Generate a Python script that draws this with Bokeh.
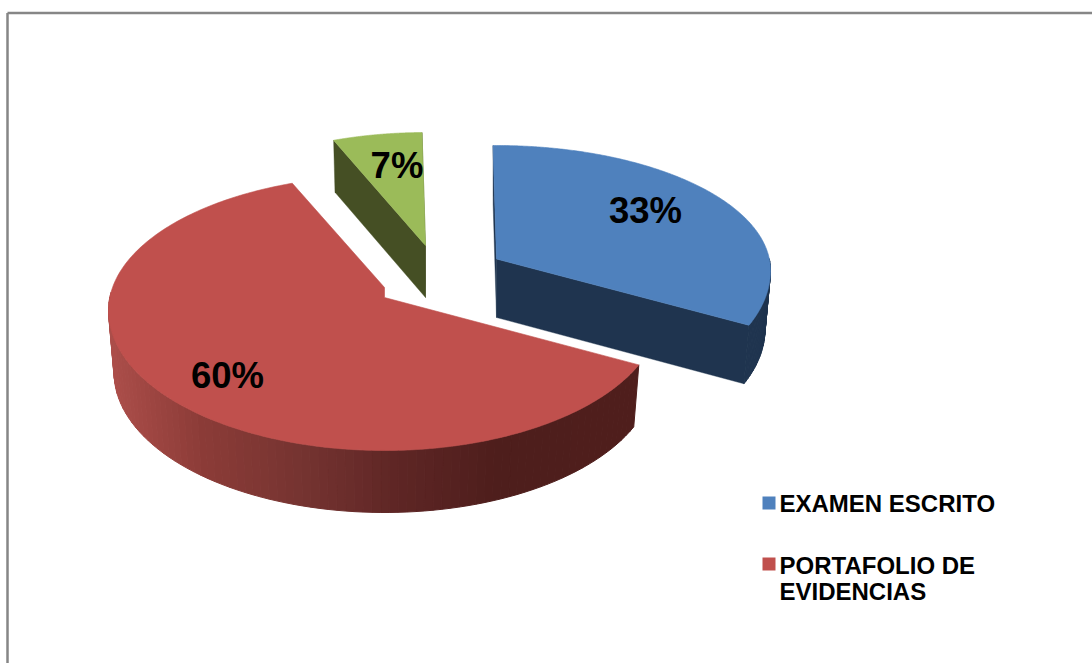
import numpy as np
from bokeh.plotting import figure
from bokeh.core.properties import value
from bokeh.embed import file_html
from bokeh.resources import INLINE

# Data
categories = ["EXAMEN ESCRITO", "PORTAFOLIO DE EVIDENCIAS", "OTROS"]
percentages = [33, 60, 7]
legend_lines = [["EXAMEN ESCRITO"], ["PORTAFOLIO DE", "EVIDENCIAS"]]

# Style and projection of each slice
top_colors = ["#4F81BD", "#C0504D", "#9BBB59"]
face_colors = ["#1F344F", "#4F1F1C", "#454F24"]
geom = [
    dict(cx=496, cy=270, rx=274, far=125, near=141, depth=58.5, shrink=0.98),
    dict(cx=384, cy=310, rx=276, far=135, near=140, depth=62, shrink=0.98, apex=(384, 297), notch=(384, 287)),
    dict(cx=425, cy=267, rx=275, far=135, near=140, depth=52, shrink=0.985, apex=(425, 245)),
]
geom[0]["apex"] = (496, 258.5)
wall_stops_x = [110, 200, 300, 400, 500, 640]
wall_stops_rgb = [(172, 78, 74), (140, 60, 56), (118, 52, 49), (94, 38, 37), (78, 30, 28), (80, 30, 28)]
START_DEG = -1.0


def warp(th):
    r = np.radians(th)
    return th - 8.85 * np.sin(r) - 3.5 * np.sin(2 * r)


def arc(g, a0, a1, n=120):
    th = np.radians(warp(np.linspace(a0, a1, n)))
    ry = np.where(np.cos(th) > 0, g["far"], g["near"])
    return g["cx"] + g["rx"] * np.sin(th), g["cy"] - ry * np.cos(th), np.cos(th)


def lower(g, x, y):
    return g["cx"] + (np.asarray(x) - g["cx"]) * g["shrink"], np.asarray(y) + g["depth"]


p = figure(width=1092, height=663, x_range=(0, 1092), y_range=(663, 0),
           output_backend="svg", toolbar_location=None, min_border=0,
           background_fill_color="white", border_fill_color="white")
p.axis.visible = False
p.grid.visible = False
p.outline_line_color = None

# frame
p.segment([7, 7], [12.5, 12.5], [1092, 7], [12.5, 663], line_color="#868686", line_width=2.5)

total = sum(percentages)
edges = np.cumsum([0] + percentages) / total * 360 + START_DEG
order = [2, 0, 1]
for i in order:
    g = geom[i]
    ax, ay = g["apex"]
    x, y, ct = arc(g, edges[i], edges[i + 1], 241)
    lx, ly = lower(g, x, y)
    # outer wall, made of strips; only the near part of the rim can be seen
    step = 2
    keep = [k for k in range(0, len(x) - 1, step) if ct[k] < 0.1]
    if keep and i != 2:
        last = len(x) - 1
        xs, ys, mids = [], [], []
        for k in keep:
            j = min(k + step, last)
            xs.append([x[k], x[j], lx[j], lx[k]])
            ys.append([y[k], y[j], ly[j], ly[k]])
            mids.append((x[k] + x[j]) / 2)
        if i == 1:
            rgb = [np.interp(mids, wall_stops_x, [s[c] for s in wall_stops_rgb]) for c in range(3)]
            cols = ["#%02x%02x%02x" % (int(a), int(b), int(c)) for a, b, c in zip(*rgb)]
        else:
            cols = [face_colors[i]] * len(xs)
        p.patches(xs, ys, fill_color=cols, line_color=cols, line_width=1.0)
    # the two inner faces
    lax, lay = lower(g, ax, ay)
    faces = (0, -1) if i != 1 else ()
    for e in faces:
        p.patch([x[e], ax, float(lax), float(lx[e])], [y[e], ay, float(lay), float(ly[e])],
                fill_color=face_colors[i], line_color=face_colors[i], line_width=0.4)
    # top face
    tx = [ax] + list(x)
    ty = [ay] + list(y)
    if "notch" in g:
        tx.append(g["notch"][0])
        ty.append(g["notch"][1])
    p.patch(tx, ty, fill_color=top_colors[i], line_color=top_colors[i], line_width=0.6)

# value labels
label_x = [645, 227, 396.5]
label_y = [210, 375, 165]
p.text(label_x, label_y, text=[f"{v}%" for v in percentages],
       text_font=value("Liberation Sans"), text_font_style="bold", text_font_size="36.5px",
       text_color="black", text_align="center", text_baseline="middle")

# legend
sw_x = [762, 762]
sw_y = [496, 557]
p.quad(left=sw_x, right=[s + 13 for s in sw_x], top=sw_y, bottom=[s + 13 for s in sw_y],
       fill_color=top_colors[:2], line_color=None)
lx_ = [779, 779, 779]
ly_ = [502.5, 564.5, 591]
p.text(lx_, ly_, text=[t for lines in legend_lines for t in lines],
       text_font=value("Liberation Sans"), text_font_style="bold", text_font_size="24px",
       text_color="black", text_align="left", text_baseline="middle")

html = file_html(p, INLINE)
html = html.replace("<head>", "<head><style>html,body{margin:0;padding:0;overflow:hidden;background:#fff}</style>", 1)
open("out.html", "w").write(html)
